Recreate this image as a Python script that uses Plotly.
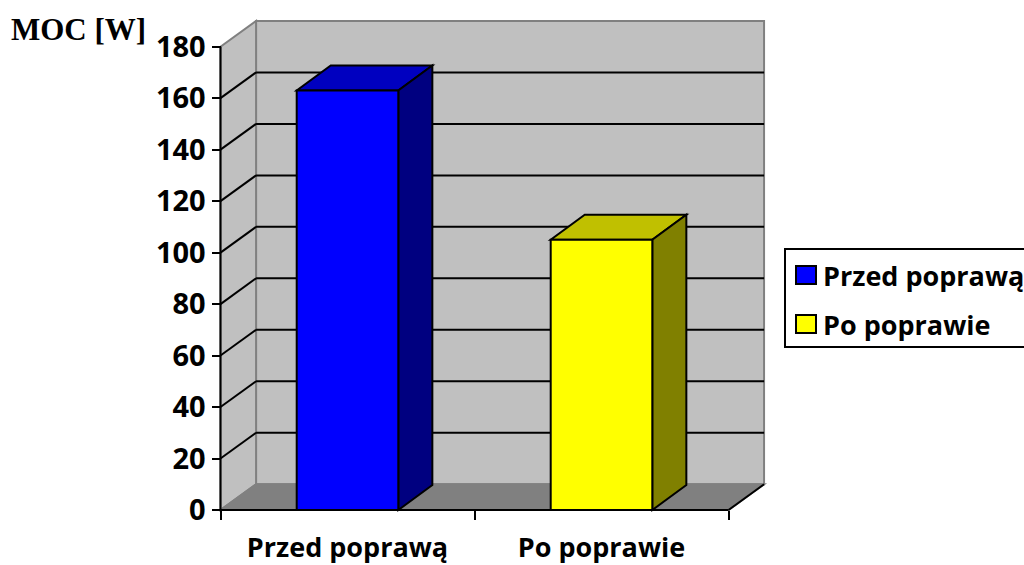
import plotly.graph_objects as go

# ---- data -------------------------------------------------------------
categories = ["Przed poprawą", "Po poprawie"]
values = [163, 105]
y_ticks = [0, 20, 40, 60, 80, 100, 120, 140, 160, 180]
y_title = "MOC [W]"

# ---- style ------------------------------------------------------------
front_colors = ["#0000FF", "#FFFF00"]
top_colors = ["#0000C0", "#C0C000"]
side_colors = ["#000080", "#808000"]
WALL = "#C0C0C0"
FLOOR = "#808080"
EDGE = "#808080"
FONT = "Open Sans"

W_PX, H_PX = 1024, 565
ML, MR, MT, MB = 212, 252, 14, 48
PX_PER_X = 254.0          # pixels per category unit
PX_PER_Y = 2.574          # pixels per watt
X_ORIGIN_PX = 220.5       # pixel column of the front value axis
Y_ORIGIN_PX = 510.0       # pixel row of the zero line

plot_w = W_PX - ML - MR
plot_h = H_PX - MT - MB
x_min = -0.5 - (X_ORIGIN_PX - ML) / PX_PER_X
x_max = x_min + plot_w / PX_PER_X
y_min = -((H_PX - MB) - Y_ORIGIN_PX) / PX_PER_Y
y_max = y_min + plot_h / PX_PER_Y

# 3-D depth of the walls and of the bars (data units)
DX, DY = 0.14, 10.0
BDX, BDY = 0.134, 9.7
BAR_W = 0.4

x_left, x_right = -0.5, len(categories) - 0.5
y_top = y_ticks[-1]


def px_x(px):
    return (px - ML) / plot_w


def px_y(py):
    return 1 - (py - MT) / plot_h


def poly(points, fill, line_color, width=2, layer="below"):
    d = "M " + " L ".join(f"{x},{y}" for x, y in points) + " Z"
    return dict(type="path", path=d, xref="x", yref="y", fillcolor=fill,
                line=dict(color=line_color, width=width), layer=layer)


def seg(x0, y0, x1, y1, color, width=2):
    return dict(type="line", x0=x0, y0=y0, x1=x1, y1=y1, xref="x", yref="y",
                line=dict(color=color, width=width), layer="below")


shapes = []
# back wall
shapes.append(poly([(x_left + DX, DY), (x_right + DX, DY),
                    (x_right + DX, y_top + DY), (x_left + DX, y_top + DY)],
                   WALL, EDGE))
# side wall
shapes.append(poly([(x_left, 0), (x_left, y_top),
                    (x_left + DX, y_top + DY), (x_left + DX, DY)],
                   WALL, EDGE))
# floor
shapes.append(poly([(x_left, 0), (x_right, 0),
                    (x_right + DX, DY), (x_left + DX, DY)],
                   FLOOR, EDGE))
# gridlines on the back and side walls
for v in y_ticks[1:-1]:
    shapes.append(seg(x_left + DX, v + DY, x_right + DX, v + DY, "black"))
    shapes.append(seg(x_left, v, x_left + DX, v + DY, "black"))
# front axes
shapes.append(seg(x_left, 0, x_left, y_top, "black"))
shapes.append(seg(x_left, 0, x_right, 0, "black"))
shapes.append(seg(x_right, 0, x_right + DX, DY, "black"))

# top and side faces of the bars
for i, v in enumerate(values):
    xl, xr = i - BAR_W / 2, i + BAR_W / 2
    shapes.append(poly([(xl, v), (xr, v), (xr + BDX, v + BDY), (xl + BDX, v + BDY)],
                       top_colors[i], "black"))
    shapes.append(poly([(xr, 0), (xr, v), (xr + BDX, v + BDY), (xr + BDX, BDY)],
                       side_colors[i], "black"))

fig = go.Figure()
for i, (cat, v) in enumerate(zip(categories, values)):
    fig.add_trace(go.Bar(
        x=[i], y=[v], width=BAR_W, name=cat, showlegend=False,
        marker=dict(color=front_colors[i], line=dict(color="black", width=2)),
        hoverinfo="skip",
    ))

# legend drawn as boxes + text
LEG_L, LEG_T, LEG_R, LEG_B = 785, 249, 1030, 347
shapes.append(dict(type="rect", xref="paper", yref="paper",
                   x0=px_x(LEG_L), x1=px_x(LEG_R), y0=px_y(LEG_B), y1=px_y(LEG_T),
                   line=dict(color="black", width=2), fillcolor="white", layer="above"))
annotations = []
row_centers = [275, 324]
for i, cat in enumerate(categories):
    cy = row_centers[i]
    shapes.append(dict(type="rect", xref="paper", yref="paper",
                       x0=px_x(796), x1=px_x(816), y0=px_y(cy + 9), y1=px_y(cy - 9),
                       line=dict(color="black", width=2), fillcolor=front_colors[i],
                       layer="above"))
    annotations.append(dict(
        text=cat, xref="paper", yref="paper", x=px_x(821), y=px_y(cy),
        xanchor="left", yanchor="middle", showarrow=False,
        font=dict(family=FONT, size=27, color="black", weight="bold"),
    ))

annotations.append(dict(
    text=y_title, xref="paper", yref="paper", x=px_x(9), y=px_y(30),
    xanchor="left", yanchor="middle", showarrow=False,
    font=dict(family="Liberation Serif", size=31, color="black", weight="bold"),
))

fig.update_layout(
    width=W_PX, height=H_PX, autosize=False,
    margin=dict(l=ML, r=MR, t=MT, b=MB, pad=0, autoexpand=False),
    paper_bgcolor="white", plot_bgcolor="white",
    barmode="overlay", showlegend=False,
    shapes=shapes, annotations=annotations,
    font=dict(family=FONT, color="black"),
    xaxis=dict(
        range=[x_min, x_max], anchor="free",
        position=(0 - y_min) / (y_max - y_min), automargin=False,
        tickvals=list(range(len(categories))), ticktext=categories,
        ticks="", showgrid=False, zeroline=False, showline=False,
        tickfont=dict(family=FONT, size=27, color="black", weight="bold"),
        ticklabelstandoff=19,
        minor=dict(tickvals=[x_left, 0.5, x_right], ticks="outside", ticklen=9,
                   tickwidth=2, tickcolor="black", showgrid=False),
        fixedrange=True,
    ),
    yaxis=dict(
        range=[y_min, y_max], anchor="free", automargin=False,
        position=(x_left - x_min) / (x_max - x_min),
        tickvals=y_ticks, ticks="outside", ticklen=9, tickwidth=2,
        tickcolor="black", showgrid=False, zeroline=False, showline=False,
        tickfont=dict(family=FONT, size=29, color="black", weight="bold"),
        fixedrange=True,
    ),
)

fig.write_html("out.html")
